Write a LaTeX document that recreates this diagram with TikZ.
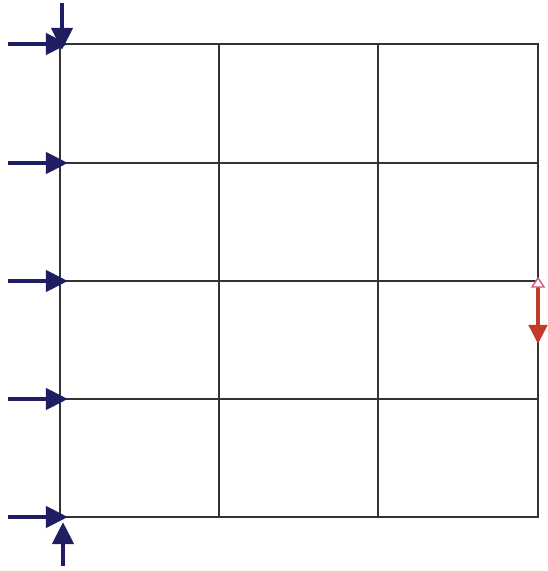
\documentclass[tikz,border=0pt]{standalone}
\usetikzlibrary{arrows.meta}
\definecolor{loadblue}{RGB}{32,30,98}
\definecolor{dispred}{RGB}{196,58,40}
\definecolor{dispopen}{RGB}{214,90,140}
\begin{document}
\begin{tikzpicture}[x=0.025cm,y=-0.025cm,
  mesh/.style={draw=black!80,line width=0.8pt},
  load/.style={loadblue,line width=3.4pt,-{Triangle[length=0.55cm,width=0.52cm]}},
  disp/.style={dispred,line width=2.8pt,-{Triangle[length=0.48cm,width=0.46cm]}},
  support/.style={draw=dispopen,line width=1pt,fill=white}]
\useasboundingbox (0,0) rectangle (547,571);
% mesh nodes
\foreach \i/\x in {0/60,1/219,2/378,3/538}
  \foreach \j/\y in {0/44,1/163,2/281,3/399,4/517}
    \coordinate (n\i\j) at (\x,\y);
\draw[mesh] (n00) rectangle (n34);
\foreach \i in {1,2}
  \draw[mesh] (n\i0) -- (n\i4);
\foreach \j in {1,2,3}
  \draw[mesh] (n0\j) -- (n3\j);
% horizontal loads on the left edge
\foreach \j/\y in {0/44,1/163,2/281,3/399,4/517}{
  \coordinate (h\j) at (8,\y);
  \coordinate (t\j) at (68,\y);
  \draw[load] (h\j) -- (t\j);
}
% vertical loads at the corners
\coordinate (vtop) at (62,3);
\coordinate (vtoptip) at (62,50);
\coordinate (vbot) at (63,566);
\coordinate (vbottip) at (63,522);
\draw[load] (vtop) -- (vtoptip);
\draw[load] (vbot) -- (vbottip);
% prescribed displacement
\coordinate (d0) at (538,286);
\coordinate (d1) at (538,344);
\draw[disp] (d0) -- (d1);
\draw[support] (532,287) -- (544,287) -- (538,278) -- cycle;
\end{tikzpicture}
\end{document}
